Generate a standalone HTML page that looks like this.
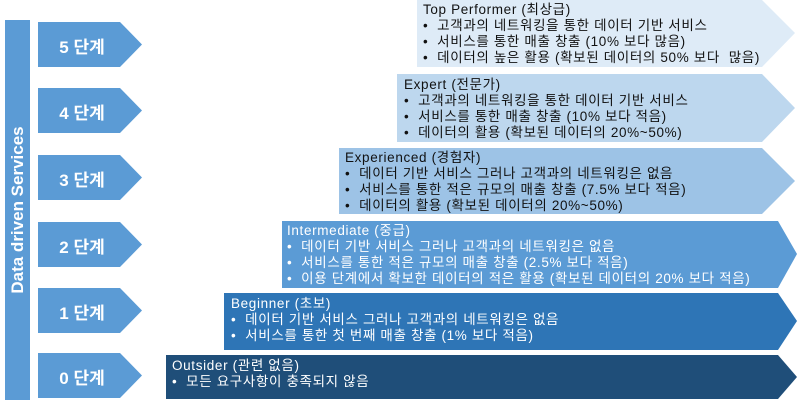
<!DOCTYPE html>
<html><head><meta charset="utf-8"><style>
body{margin:0;width:800px;height:405px;background:#fff;overflow:hidden;position:relative;font-family:"Liberation Sans","Noto Sans CJK KR",sans-serif}
svg{position:absolute;left:0;top:0}
.t{position:absolute;font-size:13.5px;line-height:16px;letter-spacing:0.65px;white-space:nowrap;color:#111}
.w{color:#fff}
.s{position:absolute;left:38px;width:88px;text-align:center;color:#fff;font-weight:bold;font-size:17px}
.v{position:absolute;left:5px;top:20px;width:25px;height:380px;background:#5b9bd5}
.v span{position:absolute;left:50%;top:50%;transform:translate(-50%,-50%) rotate(-90deg);color:#fff;font-weight:bold;font-size:17px;white-space:nowrap}
</style></head><body>
<div class="v"><span>Data driven Services</span></div>
<svg width="800" height="405">
<g fill="#5b9bd5">
<polygon points="38,22 120,22 142,44.5 120,67 38,67"/>
<polygon points="38,88 120,88 142,110.5 120,133 38,133"/>
<polygon points="38,155 120,155 142,177.5 120,200 38,200"/>
<polygon points="38,222 120,222 142,244.5 120,267 38,267"/>
<polygon points="38,288 120,288 142,310.5 120,333 38,333"/>
<polygon points="38,353 120,353 142,375.5 120,398 38,398"/>
</g>
<polygon fill="#deebf7" points="417,0 762,0 795,33 762,67 417,67"/>
<polygon fill="#bdd7ee" points="397,74 762,74 795,108 762,142 397,142"/>
<polygon fill="#9dc3e6" points="339,148 762,148 795,181 762,214 339,214"/>
<polygon fill="#5b9bd5" points="282,221 778,221 797,254 778,288 282,288"/>
<polygon fill="#2e75b6" points="224,293 778,293 797,321 778,350 224,350"/>
<polygon fill="#1f4e79" points="166,355 778,355 797,377 778,399 166,399"/>
</svg>
<div class="s" style="top:33px">5 단계</div>
<div class="s" style="top:99px">4 단계</div>
<div class="s" style="top:166px">3 단계</div>
<div class="s" style="top:233px">2 단계</div>
<div class="s" style="top:299px">1 단계</div>
<div class="s" style="top:364px">0 단계</div>
<div class="t" style="left:423px;top:2px">Top Performer (최상급)<br>• &nbsp;고객과의 네트워킹을 통한 데이터 기반 서비스<br>• &nbsp;서비스를 통한 매출 창출 (10% 보다 많음)<br>• &nbsp;데이터의 높은 활용 (확보된 데이터의 50% 보다 &nbsp;많음)</div>
<div class="t" style="left:404px;top:77px">Expert (전문가)<br>• &nbsp;고객과의 네트워킹을 통한 데이터 기반 서비스<br>• &nbsp;서비스를 통한 매출 창출 (10% 보다 적음)<br>• &nbsp;데이터의 활용 (확보된 데이터의 20%~50%)</div>
<div class="t" style="left:345px;top:150px">Experienced (경험자)<br>• &nbsp;데이터 기반 서비스 그러나 고객과의 네트워킹은 없음<br>• &nbsp;서비스를 통한 적은 규모의 매출 창출 (7.5% 보다 적음)<br>• &nbsp;데이터의 활용 (확보된 데이터의 20%~50%)</div>
<div class="t w" style="left:287px;top:223px">Intermediate (중급)<br>• &nbsp;데이터 기반 서비스 그러나 고객과의 네트워킹은 없음<br>• &nbsp;서비스를 통한 적은 규모의 매출 창출 (2.5% 보다 적음)<br>• &nbsp;이용 단계에서 확보한 데이터의 적은 활용 (확보된 데이터의 20% 보다 적음)</div>
<div class="t w" style="left:231px;top:296px">Beginner (초보)<br>• &nbsp;데이터 기반 서비스 그러나 고객과의 네트워킹은 없음<br>• &nbsp;서비스를 통한 첫 번째 매출 창출 (1% 보다 적음)</div>
<div class="t w" style="left:172px;top:358px">Outsider (관련 없음)<br>• &nbsp;모든 요구사항이 충족되지 않음</div>
</body></html>
